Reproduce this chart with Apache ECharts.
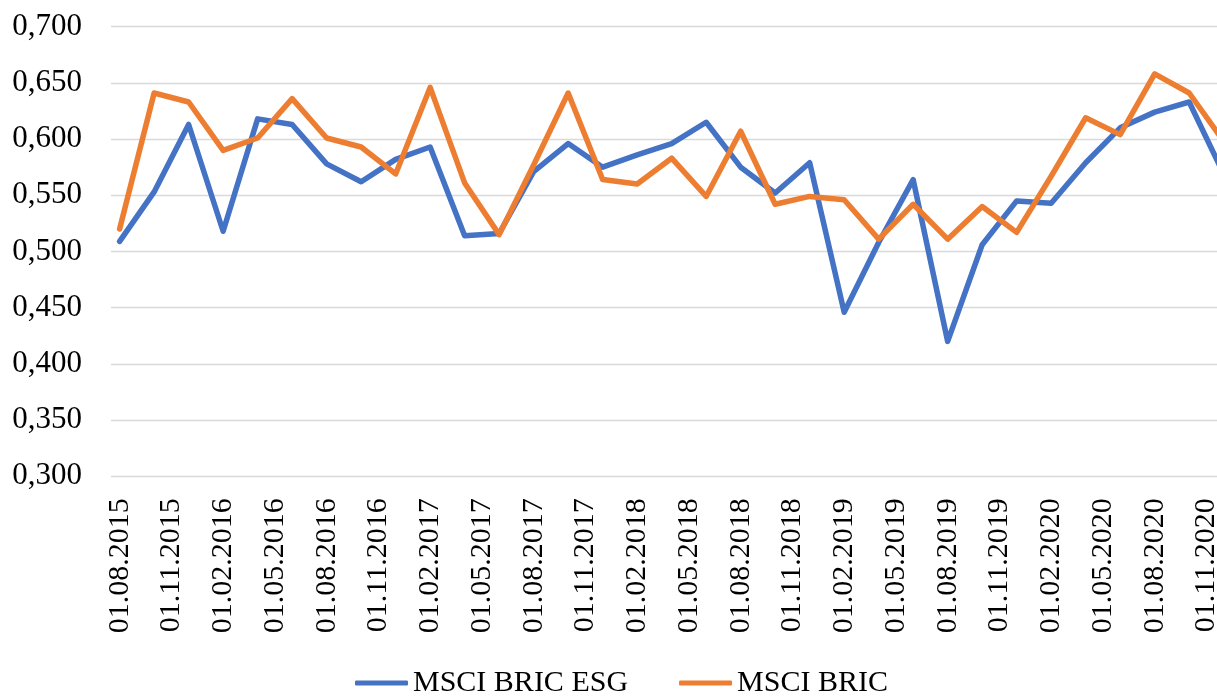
<!DOCTYPE html>
<html>
<head>
<meta charset="utf-8">
<script src="https://cdn.jsdelivr.net/npm/echarts@6/dist/echarts.min.js"></script>
<style>
html,body{margin:0;padding:0;background:#fff;}
#chart{width:1217px;height:696px;}
</style>
</head>
<body>
<div id="chart"></div>
<script>
// Monthly category axis (labels shown every 3rd month)
const months = [
 "01.08.2015","01.09.2015","01.10.2015","01.11.2015","01.12.2015",
 "01.01.2016","01.02.2016","01.03.2016","01.04.2016","01.05.2016","01.06.2016","01.07.2016","01.08.2016","01.09.2016","01.10.2016","01.11.2016","01.12.2016",
 "01.01.2017","01.02.2017","01.03.2017","01.04.2017","01.05.2017","01.06.2017","01.07.2017","01.08.2017","01.09.2017","01.10.2017","01.11.2017","01.12.2017",
 "01.01.2018","01.02.2018","01.03.2018","01.04.2018","01.05.2018","01.06.2018","01.07.2018","01.08.2018","01.09.2018","01.10.2018","01.11.2018","01.12.2018",
 "01.01.2019","01.02.2019","01.03.2019","01.04.2019","01.05.2019","01.06.2019","01.07.2019","01.08.2019","01.09.2019","01.10.2019","01.11.2019","01.12.2019",
 "01.01.2020","01.02.2020","01.03.2020","01.04.2020","01.05.2020","01.06.2020","01.07.2020","01.08.2020","01.09.2020","01.10.2020","01.11.2020","01.12.2020"
];

// Observation dates (bi-monthly)
const obsDates = [
 "01.08.2015","01.10.2015","01.12.2015","01.02.2016","01.04.2016","01.06.2016","01.08.2016","01.10.2016","01.12.2016",
 "01.02.2017","01.04.2017","01.06.2017","01.08.2017","01.10.2017","01.12.2017",
 "01.02.2018","01.04.2018","01.06.2018","01.08.2018","01.10.2018","01.12.2018",
 "01.02.2019","01.04.2019","01.06.2019","01.08.2019","01.10.2019","01.12.2019",
 "01.02.2020","01.04.2020","01.06.2020","01.08.2020","01.10.2020","01.12.2020"
];

const esgValues = [
 0.509,0.553,0.613,0.518,0.618,0.613,0.578,0.562,0.582,
 0.593,0.514,0.516,0.571,0.596,0.575,
 0.586,0.596,0.615,0.575,0.552,0.579,
 0.446,0.508,0.564,0.420,0.506,0.545,
 0.543,0.579,0.610,0.624,0.633,0.569
];

const bricValues = [
 0.520,0.641,0.633,0.590,0.601,0.636,0.601,0.593,0.569,
 0.646,0.561,0.515,0.577,0.641,0.564,
 0.560,0.583,0.549,0.607,0.542,0.549,
 0.546,0.511,0.542,0.511,0.540,0.517,
 0.567,0.619,0.604,0.658,0.641,0.598
];

const seriesNames = ["MSCI BRIC ESG", "MSCI BRIC"];

function toCategoryData(values) {
  const out = months.map(() => null);
  obsDates.forEach((d, i) => { out[months.indexOf(d)] = values[i]; });
  return out;
}

const FONT = '"Liberation Serif", "Times New Roman", serif';

const chart = echarts.init(document.getElementById('chart'), null, {renderer: 'canvas'});
chart.setOption({
  animation: false,
  backgroundColor: '#ffffff',
  grid: {left: 111, top: 26.7, width: 1121.3, height: 449.6, containLabel: false, outerBoundsMode: 'none'},
  xAxis: {
    type: 'category',
    data: months,
    boundaryGap: true,
    axisLine: {show: false},
    axisTick: {show: false},
    axisLabel: {
      interval: 2,
      rotate: 90,
      margin: 22,
      fontFamily: FONT,
      fontSize: 30,
      color: '#000000'
    },
    splitLine: {show: false}
  },
  yAxis: {
    type: 'value',
    min: 0.3,
    max: 0.7,
    interval: 0.05,
    axisLine: {show: false},
    axisTick: {show: false},
    axisLabel: {
      margin: 29,
      fontFamily: FONT,
      fontSize: 31,
      color: '#000000',
      formatter: v => v.toFixed(3).replace('.', ',')
    },
    splitLine: {lineStyle: {color: '#d9d9d9', width: 1.3}}
  },
  legend: {
    left: 355,
    top: 668,
    padding: 0,
    itemWidth: 53,
    itemHeight: 5,
    itemGap: 51,
    icon: 'roundRect',
    textStyle: {fontFamily: FONT, fontSize: 30, color: '#000000'},
    data: seriesNames
  },
  series: [
    {
      name: seriesNames[0],
      type: 'line',
      data: toCategoryData(esgValues),
      connectNulls: true,
      showSymbol: false,
      symbol: 'none',
      itemStyle: {color: '#4472C4'},
      lineStyle: {color: '#4472C4', width: 5.5, cap: 'round', join: 'round'}
    },
    {
      name: seriesNames[1],
      type: 'line',
      data: toCategoryData(bricValues),
      connectNulls: true,
      showSymbol: false,
      symbol: 'none',
      itemStyle: {color: '#ED7D31'},
      lineStyle: {color: '#ED7D31', width: 5.5, cap: 'round', join: 'round'}
    }
  ]
});
</script>
</body>
</html>
